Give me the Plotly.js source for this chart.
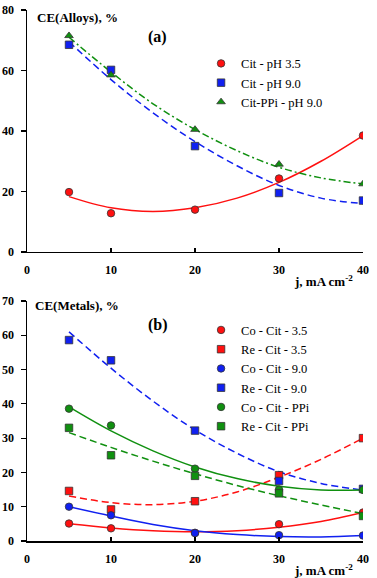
<!DOCTYPE html>
<html>
<head>
<meta charset="utf-8">
<script src="https://cdn.plot.ly/plotly-3.0.1.min.js"></script>
<style>
  body { margin: 0; background: #fff; }
  #chart { width: 377px; height: 578px; }
</style>
</head>
<body>
<div id="chart"></div>
<script>
// current density, mA cm-2
var j = [5, 10, 20, 30, 40];
var jFit = [5, 10, 15, 20, 25, 30, 35, 40];

// (a) CE of alloys, %
var citPh35 = [19.8, 12.8, 14.0, 24.3, 38.5];
var citPh90 = [68.5, 60.2, 35.0, 19.5, 17.0];
var citPPi = [71.5, 58.5, 40.5, 29.0, 22.5];
var citPh35Fit = [18.3, 14.6, 13.4, 14.6, 17.8, 23.0, 30.0, 38.5];
var citPh90Fit = [69.5, 57.0, 46.0, 36.5, 28.5, 22.0, 17.8, 16.0];
var citPPiFit = [71.0, 59.5, 49.0, 40.5, 33.5, 28.0, 24.5, 22.5];

// (b) CE of metals, %
var coCit35 = [5.1, 3.7, 2.4, 4.9, 8.3];
var reCit35 = [14.6, 9.2, 11.6, 19.2, 30.0];
var coCit90 = [10.0, 7.5, 2.3, 1.7, 1.6];
var reCit90 = [58.6, 52.7, 32.2, 17.5, 15.2];
var coCitPPi = [38.6, 33.7, 21.1, 15.0, 14.9];
var reCitPPi = [33.0, 25.0, 19.0, 13.9, 7.3];
var coCit35Fit = [5.0, 3.8, 3.0, 2.7, 3.0, 4.0, 5.7, 8.3];
var reCit35Fit = [13.1, 11.2, 10.6, 11.6, 14.3, 18.6, 23.8, 30.0];
var coCit90Fit = [10.0, 7.3, 4.8, 3.0, 1.9, 1.3, 1.2, 1.6];
var reCit90Fit = [61.0, 50.4, 40.8, 32.4, 25.6, 20.2, 16.8, 14.8];
var coCitPPiFit = [39.1, 32.1, 26.3, 21.6, 18.2, 16.0, 14.9, 14.9];
var reCitPPiFit = [31.6, 27.3, 23.3, 19.6, 16.2, 13.2, 10.5, 8.0];

var RED = '#ff1010', BLUE = '#1020f0', GREEN = '#109010';
var serif = 'Liberation Serif';

function pts(name, y, color, symbol, xa, ya, leg) {
    return {
        x: j, y: y, name: name, type: 'scatter', mode: 'markers',
        xaxis: xa, yaxis: ya, legend: leg,
        marker: {color: color, symbol: symbol, size: 7.5, line: {color: '#333', width: 0.8}}
    };
}
function fit(y, color, dash, xa, ya) {
    return {
        x: jFit, y: y, type: 'scatter', mode: 'lines', showlegend: false,
        xaxis: xa, yaxis: ya, hoverinfo: 'skip',
        line: {color: color, width: 1.5, dash: dash, shape: 'spline'}
    };
}

var data = [
    fit(citPh35Fit, RED, 'solid', 'x', 'y'),
    fit(citPh90Fit, BLUE, '7px,4px', 'x', 'y'),
    fit(citPPiFit, GREEN, '7px,3px,2px,3px', 'x', 'y'),
    pts('Cit - pH 3.5', citPh35, RED, 'circle', 'x', 'y', 'legend'),
    pts('Cit - pH 9.0', citPh90, BLUE, 'square', 'x', 'y', 'legend'),
    pts('Cit-PPi - pH 9.0', citPPi, GREEN, 'triangle-up', 'x', 'y', 'legend'),

    fit(coCit35Fit, RED, 'solid', 'x2', 'y2'),
    fit(reCit35Fit, RED, '7px,4px', 'x2', 'y2'),
    fit(coCit90Fit, BLUE, 'solid', 'x2', 'y2'),
    fit(reCit90Fit, BLUE, '7px,4px', 'x2', 'y2'),
    fit(coCitPPiFit, GREEN, 'solid', 'x2', 'y2'),
    fit(reCitPPiFit, GREEN, '7px,4px', 'x2', 'y2'),
    pts('Co - Cit - 3.5', coCit35, RED, 'circle', 'x2', 'y2', 'legend2'),
    pts('Re - Cit - 3.5', reCit35, RED, 'square', 'x2', 'y2', 'legend2'),
    pts('Co - Cit - 9.0', coCit90, BLUE, 'circle', 'x2', 'y2', 'legend2'),
    pts('Re - Cit - 9.0', reCit90, BLUE, 'square', 'x2', 'y2', 'legend2'),
    pts('Co - Cit - PPi', coCitPPi, GREEN, 'circle', 'x2', 'y2', 'legend2'),
    pts('Re - Cit - PPi', reCitPPi, GREEN, 'square', 'x2', 'y2', 'legend2')
];

var tickFont = {family: serif, size: 12, color: '#000', weight: 'bold'};
function xAxis(anchor) {
    return {
        anchor: anchor, range: [0, 40], dtick: 10, showgrid: false, zeroline: false,
        showline: true, linecolor: '#000', linewidth: 1.5,
        ticks: 'inside', ticklen: 4, tickwidth: 1.2, tickcolor: '#000',
        tickfont: tickFont, ticklabelstandoff: 6
    };
}
function yAxis(anchor, domain, range, dtick) {
    return {
        anchor: anchor, domain: domain, range: range, dtick: dtick,
        showgrid: false, zeroline: false,
        showline: true, linecolor: '#000', linewidth: 1.5,
        ticks: 'outside', ticklen: 5, tickwidth: 1.2, tickcolor: '#000',
        tickfont: tickFont, ticklabelstandoff: 4
    };
}
var legendStyle = {
    font: {family: serif, size: 12.5, color: '#000'},
    bgcolor: 'rgba(0,0,0,0)', tracegroupgap: 0,
    xanchor: 'left', yanchor: 'top'
};
var titleFont = {family: serif, size: 13, weight: 'bold', color: '#000'};
var panelFont = {family: serif, size: 16, weight: 'bold', color: '#000'};

var layout = {
    width: 377, height: 578,
    margin: {l: 27, r: 14, t: 10, b: 37},
    paper_bgcolor: '#fff', plot_bgcolor: '#fff',
    font: {family: serif},
    xaxis: xAxis('y'),
    yaxis: yAxis('x', [0.5443, 1], [0, 80], 20),
    xaxis2: xAxis('y2'),
    yaxis2: yAxis('x2', [0, 0.452], [0, 70], 10),
    legend: Object.assign({x: 0.518, y: 0.927}, legendStyle),
    legend2: Object.assign({x: 0.518, y: 0.425}, legendStyle),
    annotations: [
        {text: 'CE(Alloys), %', xref: 'x', yref: 'y', x: 0.9, y: 77.5, xanchor: 'left', yanchor: 'middle',
         showarrow: false, font: titleFont},
        {text: '(a)', xref: 'x', yref: 'y', x: 15.5, y: 71, showarrow: false, font: panelFont},
        {text: 'j, mA cm<sup>-2</sup>', xref: 'paper', yref: 'paper', x: 0.789, y: 0.508,
         xanchor: 'left', yanchor: 'top', showarrow: false, font: titleFont},
        {text: 'CE(Metals), %', xref: 'x2', yref: 'y2', x: 0.7, y: 68.8, xanchor: 'left', yanchor: 'middle',
         showarrow: false, font: titleFont},
        {text: '(b)', xref: 'x2', yref: 'y2', x: 15.6, y: 63, showarrow: false, font: panelFont},
        {text: 'j, mA cm<sup>-2</sup>', xref: 'paper', yref: 'paper', x: 0.789, y: -0.036,
         xanchor: 'left', yanchor: 'top', showarrow: false, font: titleFont}
    ]
};

Plotly.newPlot('chart', data, layout, {displayModeBar: false, staticPlot: true});
</script>
</body>
</html>
